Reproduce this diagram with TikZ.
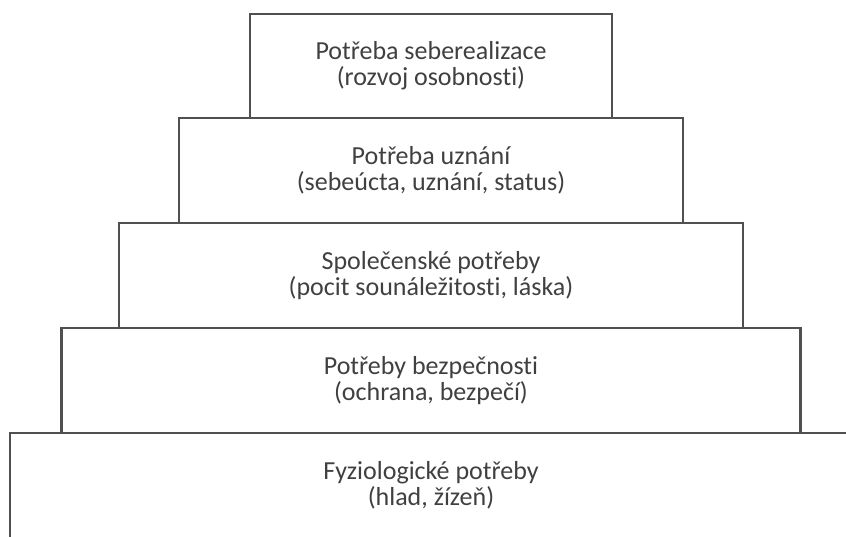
\documentclass[tikz,border=0pt]{standalone}
\usepackage{fontspec}
\setmainfont{Carlito}[Ligatures={NoCommon}]
\usetikzlibrary{positioning}
\definecolor{boxgray}{HTML}{505050}
\definecolor{textgray}{HTML}{404040}
\begin{document}
\begin{tikzpicture}[x=1pt,y=-1pt,
  level/.style={draw=boxgray,line width=2.8pt,inner sep=0pt,outer sep=0pt,
    minimum height=105pt,align=center,text=textgray,
    font=\fontsize{26}{26}\selectfont}]
\clip (0,0) rectangle (846,537);
% pyramid, top to bottom
\node[level,minimum width=362pt,minimum height=104pt] (self) at (431,66)
  {Potřeba seberealizace\\(rozvoj osobnosti)};
\node[level,minimum width=504pt,below=0pt of self] (esteem)
  {Potřeba uznání\\(sebeúcta, uznání, status)};
\node[level,minimum width=624pt,below=0pt of esteem] (social)
  {Společenské potřeby\\(pocit sounáležitosti, láska)};
\node[level,minimum width=739pt,below=0pt of social] (safety)
  {Potřeby bezpečnosti\\(ochrana, bezpečí)};
\node[level,minimum width=842pt,below=0pt of safety] (body)
  {Fyziologické potřeby\\(hlad, žízeň)};
\end{tikzpicture}
\end{document}
